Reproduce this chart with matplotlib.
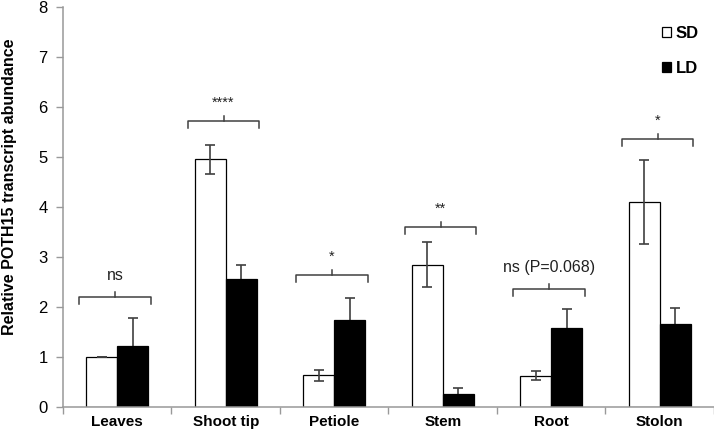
import matplotlib
matplotlib.use("Agg")
import matplotlib.pyplot as plt
import numpy as np

plt.rcParams['font.family'] = ['Liberation Sans', 'DejaVu Sans']

categories = ["Leaves", "Shoot tip", "Petiole", "Stem", "Root", "Stolon"]
sd_values = [1.00, 4.95, 0.64, 2.84, 0.63, 4.09]
sd_errors = [0.00, 0.29, 0.11, 0.45, 0.09, 0.84]
ld_values = [1.22, 2.56, 1.73, 0.27, 1.58, 1.66]
ld_errors = [0.56, 0.28, 0.44, 0.12, 0.38, 0.32]
sig_labels = ["ns", "****", "*", "**", "ns (P=0.068)", "*"]
bracket_levels = [2.19, 5.71, 2.63, 3.59, 2.35, 5.35]

narrow = ['Liberation Sans Narrow', 'Liberation Sans', 'DejaVu Sans']

fig = plt.figure(figsize=(7.14, 4.36), dpi=100)
ax = fig.add_axes([0.0882, 0.0665, 0.9118, 0.9175])

x = np.arange(len(categories))
w = 0.285
err_kw = dict(ecolor='#404040', elinewidth=1.2, capsize=3.5, capthick=1.2, fmt='none')
ax.bar(x - w/2, sd_values, w, color='white', edgecolor='black', linewidth=0.9,
       label='SD', zorder=2)
ax.errorbar(x - w/2, sd_values, yerr=sd_errors, zorder=3, **err_kw)
ax.bar(x + w/2, ld_values, w, color='black', edgecolor='black', linewidth=0.9,
       label='LD', zorder=2)
# LD error bars sit behind the black bars so only the upper half shows
ax.errorbar(x + w/2, ld_values, yerr=ld_errors, zorder=1, **err_kw)

# significance brackets
for i, (lvl, lab) in enumerate(zip(bracket_levels, sig_labels)):
    x0, x1 = i - 0.35, i + 0.31
    xm = (x0 + x1) / 2
    d = 0.13
    ax.plot([x0, x0, x1, x1], [lvl - d, lvl, lvl, lvl - d], color='#404040', lw=1.1,
            solid_joinstyle='round', zorder=3)
    ax.plot([xm, xm], [lvl, lvl + 0.11], color='#404040', lw=1.1, zorder=3)
    if lab.startswith('*'):
        ax.text(xm, lvl + 0.24, lab, ha='center', va='bottom', fontsize=10.5,
                color='#222222')
    else:
        ax.text(xm, lvl + 0.28, lab, ha='center', va='bottom', fontsize=11.5,
                color='#222222', family=narrow)

ax.set_xlim(-0.5, 5.5)
ax.set_ylim(0, 8)
ax.set_yticks(range(0, 9))
ax.set_yticklabels([str(v) for v in range(0, 9)], fontsize=12, family=narrow)
ax.set_xticks(x)
ax.set_xticklabels(categories, fontsize=11, fontweight='bold')
ax.tick_params(axis='x', length=0, pad=6)
ax.set_xticks(np.arange(-0.5, 6, 1), minor=True)
ax.tick_params(axis='x', which='minor', length=5, color='#999999', width=1)
ax.tick_params(axis='y', length=5, color='#999999', width=1, pad=6)

for s in ['top', 'right']:
    ax.spines[s].set_visible(False)
for s in ['left', 'bottom']:
    ax.spines[s].set_color('#999999')
    ax.spines[s].set_linewidth(1.1)

ax.set_ylabel("Relative POTH15 transcript abundance", fontsize=11.5, fontweight='bold')
ax.yaxis.set_label_coords(-0.071, 0.55)

ax.legend(loc='upper right', frameon=False, prop={'weight': 'bold', 'size': 12},
          handlelength=0.55, handleheight=0.55, handletextpad=0.3, labelspacing=1.2,
          bbox_to_anchor=(1.0, 0.99))

fig.savefig("out.png", dpi=100)
